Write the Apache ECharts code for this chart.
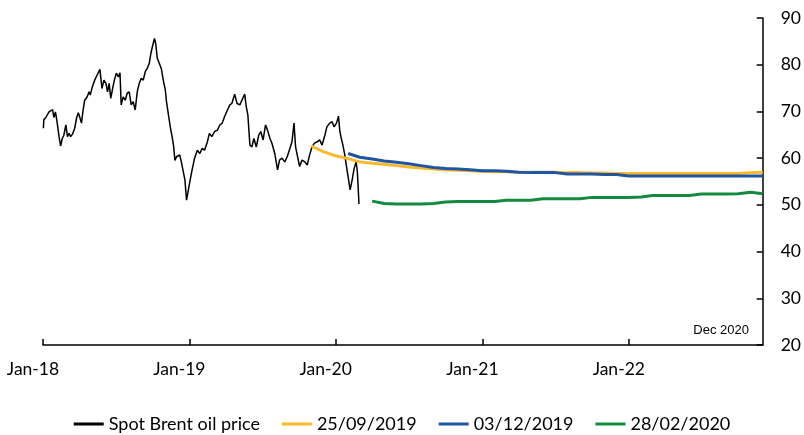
<!DOCTYPE html>
<html>
<head>
<meta charset="utf-8">
<script src="https://cdn.jsdelivr.net/npm/echarts@6/dist/echarts.min.js"></script>
<style>
  html, body { margin: 0; padding: 0; background: #fff; }
  #chart { width: 804px; height: 435px; }
</style>
</head>
<body>
<div id="chart"></div>
<script>
// spot Brent
var spotDates = [
  '2018-01-02','2018-01-03','2018-01-08','2018-01-11','2018-01-16','2018-01-20','2018-01-25','2018-01-28',
  '2018-02-01','2018-02-05','2018-02-10','2018-02-14','2018-02-18','2018-02-22','2018-02-27','2018-03-03',
  '2018-03-07','2018-03-11','2018-03-16','2018-03-21','2018-03-26','2018-03-30','2018-04-03','2018-04-07',
  '2018-04-11','2018-04-15','2018-04-21','2018-04-26','2018-04-29','2018-05-04','2018-05-10','2018-05-16',
  '2018-05-23','2018-05-28','2018-06-02','2018-06-07','2018-06-11','2018-06-15','2018-06-19','2018-06-23',
  '2018-06-28','2018-07-03','2018-07-08','2018-07-12','2018-07-15','2018-07-20','2018-07-25','2018-07-30',
  '2018-08-04','2018-08-09','2018-08-14','2018-08-19','2018-08-24','2018-08-29','2018-09-03','2018-09-08',
  '2018-09-13','2018-09-18','2018-09-23','2018-09-27','2018-10-01','2018-10-06','2018-10-09','2018-10-13',
  '2018-10-18','2018-10-23','2018-10-28','2018-11-02','2018-11-05','2018-11-10','2018-11-15','2018-11-19',
  '2018-11-23','2018-11-26','2018-11-30','2018-12-08','2018-12-12','2018-12-16','2018-12-21','2018-12-25',
  '2018-12-31','2019-01-06','2019-01-14','2019-01-21','2019-01-27','2019-02-02','2019-02-08','2019-02-15',
  '2019-02-20','2019-02-26','2019-03-05','2019-03-12','2019-03-18','2019-03-24','2019-03-30','2019-04-06',
  '2019-04-12','2019-04-17','2019-04-24','2019-04-30','2019-05-07','2019-05-12','2019-05-19','2019-05-23',
  '2019-05-27','2019-06-01','2019-06-06','2019-06-11','2019-06-17','2019-06-23','2019-06-28','2019-07-04',
  '2019-07-10','2019-07-15','2019-07-21','2019-07-26','2019-08-02','2019-08-09','2019-08-14','2019-08-20',
  '2019-08-27','2019-09-02','2019-09-09','2019-09-14','2019-09-19','2019-09-23','2019-09-28','2019-10-03',
  '2019-10-09','2019-10-16','2019-10-22','2019-10-28','2019-11-03','2019-11-09','2019-11-16','2019-11-22',
  '2019-11-28','2019-12-05','2019-12-10','2019-12-17','2019-12-23','2019-12-28','2020-01-03','2020-01-08',
  '2020-01-11','2020-01-15','2020-01-19','2020-01-23','2020-01-28','2020-02-01','2020-02-06','2020-02-11',
  '2020-02-16','2020-02-21','2020-02-24','2020-02-26','2020-02-28'
];
var spotValues = [
  66.4, 68.2, 68.7, 68.3, 69.9, 69.6, 70.4, 68.7,
  69.9, 67.8, 64.6, 62.6, 64.2, 64.9, 67.1, 64.6,
  65.3, 64.6, 65.2, 66.4, 68.7, 69.7, 68.7, 67.5,
  70.3, 72.4, 73.1, 74.2, 73.5, 75.3, 76.7, 77.8,
  79.0, 74.9, 76.7, 76.0, 74.2, 76.0, 72.8, 74.6,
  76.7, 78.2, 77.4, 78.3, 71.4, 73.1, 72.4, 73.9,
  74.2, 71.4, 72.1, 70.3, 74.2, 76.0, 77.1, 76.7,
  78.5, 79.2, 80.3, 82.4, 83.9, 85.6, 84.6, 81.4,
  80.3, 79.2, 76.7, 74.6, 72.1, 69.2, 66.4, 64.6,
  62.4, 59.5, 60.3, 60.7, 59.2, 57.5, 55.3, 51.0,
  53.9, 56.7, 60.0, 61.7, 61.0, 62.1, 61.7, 63.5,
  65.3, 64.6, 65.7, 66.0, 67.1, 67.5, 68.9, 70.3,
  71.4, 71.7, 73.7, 71.7, 71.4, 72.4, 73.7, 71.0,
  69.2, 62.8, 62.4, 64.2, 62.4, 64.9, 65.7, 63.9,
  67.1, 66.0, 64.2, 63.2, 61.0, 57.5, 59.6, 60.0,
  59.2, 60.3, 62.1, 63.5, 67.5, 62.4, 60.3, 58.2,
  59.6, 59.2, 58.5, 60.7, 62.4, 63.2, 63.5, 63.9,
  62.8, 64.9, 66.7, 67.5, 67.8, 66.7, 67.5, 69.0,
  66.0, 64.2, 62.8, 61.0, 58.2, 56.0, 53.2, 55.3,
  57.8, 59.2, 57.1, 53.9, 50.2
];

// futures curves, one value per month
var sepStart = '2019-11';
var sepValues = [
  62.6, 61.4, 60.5, 59.9, 59.2, 58.9, 58.7, 58.4, 58.1, 57.9, 57.7, 57.5, 57.4, 57.3,
  57.2, 57.1, 57.1, 57.0, 57.0, 57.0, 57.0, 56.9, 56.9, 56.8, 56.8, 56.7,
  56.7, 56.7, 56.7, 56.7, 56.7, 56.7, 56.7, 56.7, 56.7, 56.7, 56.9, 57.0
];
var decStart = '2020-02';
var decValues = [
  61.0, 60.2, 59.8, 59.4, 59.1, 58.8, 58.4, 58.0, 57.8, 57.7, 57.5,
  57.3, 57.3, 57.2, 57.0, 56.9, 56.9, 56.9, 56.6, 56.6, 56.6, 56.5, 56.5,
  56.2, 56.2, 56.2, 56.2, 56.2, 56.2, 56.2, 56.2, 56.2, 56.2, 56.2, 56.2
];
var febStart = '2020-04';
var febValues = [
  50.8, 50.3, 50.2, 50.2, 50.2, 50.3, 50.6, 50.7, 50.7,
  50.7, 50.7, 51.0, 51.0, 51.0, 51.3, 51.3, 51.3, 51.3, 51.6, 51.6, 51.6,
  51.6, 51.7, 52.0, 52.0, 52.0, 52.0, 52.3, 52.3, 52.3, 52.4, 52.7, 52.4
];

var yearTicks = ['2018-01-01', '2019-01-01', '2020-01-01', '2021-01-01', '2022-01-01'];
var seriesNames = ['Spot Brent oil price', '25/09/2019', '03/12/2019', '28/02/2020'];
var seriesColors = ['#000000', '#FBB829', '#1F55A3', '#138A3E'];

function stamp(d) {
  return Date.parse(d + 'T00:00:00Z');
}

function monthly(start, values) {
  var p = start.split('-');
  var y = +p[0], m = +p[1] - 1;
  return values.map(function (v, i) {
    return [Date.UTC(y, m + i, 1), v];
  });
}

var chart = echarts.init(document.getElementById('chart'));
var font = 'Lato, "Noto Sans", sans-serif';
var tickStamps = yearTicks.map(stamp);
var monthNames = ['Jan','Feb','Mar','Apr','May','Jun','Jul','Aug','Sep','Oct','Nov','Dec'];

chart.setOption({
  animation: false,
  grid: { left: 43, right: 41, top: 18, bottom: 90 },
  legend: {
    top: 410,
    left: 'center',
    itemWidth: 30,
    itemHeight: 3,
    itemGap: 22,
    icon: 'rect',
    textStyle: { fontFamily: font, fontSize: 18, color: '#000' },
    data: seriesNames
  },
  xAxis: {
    type: 'value',
    min: stamp('2018-01-01'),
    max: stamp('2022-12-01'),
    splitLine: { show: false },
    axisLine: { lineStyle: { color: '#000', width: 1.5 } },
    axisTick: {
      inside: true, length: 6,
      lineStyle: { color: '#000', width: 1.5 },
      customValues: tickStamps
    },
    axisLabel: {
      customValues: tickStamps,
      fontFamily: font, fontSize: 17.5, color: '#000',
      margin: 15,
      padding: [0, 20, 0, 0],
      formatter: function (val) {
        var d = new Date(val);
        return monthNames[d.getUTCMonth()] + '-' + String(d.getUTCFullYear()).slice(2);
      }
    }
  },
  yAxis: {
    type: 'value',
    position: 'right',
    min: 20,
    max: 90,
    interval: 10,
    splitLine: { show: false },
    axisLine: { show: true, lineStyle: { color: '#000', width: 1.5 } },
    axisTick: { show: true, inside: true, length: 6, lineStyle: { color: '#000', width: 1.5 } },
    axisLabel: { fontFamily: font, fontSize: 17.5, color: '#000', margin: 18 }
  },
  graphic: [{
    type: 'text',
    right: 55,
    top: 324,
    style: { text: 'Dec 2020', font: '13px "Liberation Sans", Arial, sans-serif', fill: '#000' }
  }],
  series: [
    {
      name: seriesNames[0], type: 'line', showSymbol: false,
      color: seriesColors[0],
      lineStyle: { width: 1.5, color: seriesColors[0] },
      data: spotDates.map(function (d, i) { return [stamp(d), spotValues[i]]; })
    },
    {
      name: seriesNames[1], type: 'line', showSymbol: false,
      color: seriesColors[1],
      lineStyle: { width: 3, color: seriesColors[1] },
      data: monthly(sepStart, sepValues)
    },
    {
      name: seriesNames[2], type: 'line', showSymbol: false,
      color: seriesColors[2],
      lineStyle: { width: 3, color: seriesColors[2] },
      data: monthly(decStart, decValues)
    },
    {
      name: seriesNames[3], type: 'line', showSymbol: false,
      color: seriesColors[3],
      lineStyle: { width: 3, color: seriesColors[3] },
      data: monthly(febStart, febValues)
    }
  ]
});
</script>
</body>
</html>
